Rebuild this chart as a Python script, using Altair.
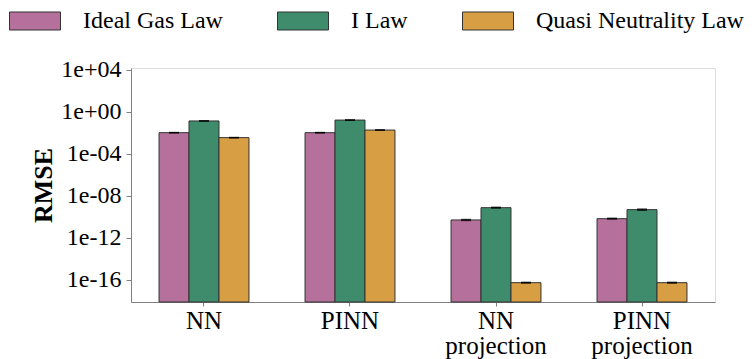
import altair as alt
import pandas as pd

methods = ["NN", "PINN", "NN projection", "PINN projection"]
laws = ["Ideal Gas Law", "I Law", "Quasi Neutrality Law"]
colors = ["#B5709B", "#3E8C6B", "#D89E43"]

rmse_ideal = [1.07e-2, 1.07e-2, 5.2e-11, 6.9e-11]
rmse_ilaw = [0.14, 0.17, 7.7e-10, 5.0e-10]
rmse_quasi = [3.6e-3, 1.9e-2, 5.5e-17, 5.5e-17]

std_ideal = [3e-4, 3e-4, 5e-12, 6e-12]
std_ilaw = [5e-3, 6e-3, 6e-11, 6e-11]
std_quasi = [1e-4, 5e-4, 4e-18, 4e-18]

tick_values = [1e-16, 1e-12, 1e-08, 1e-04, 1e+00, 1e+04]
y_min, y_max = 10 ** -18.1, 10 ** 4.19

rows = []
for law, vals, stds in zip(laws, [rmse_ideal, rmse_ilaw, rmse_quasi], [std_ideal, std_ilaw, std_quasi]):
    for m, v, s in zip(methods, vals, stds):
        rows.append({"method": m, "law": law, "rmse": v, "lo": v - s, "hi": v + s})
df = pd.DataFrame(rows)

FONT = "Liberation Serif, DejaVu Serif, serif"

x_enc = alt.X("method:N", sort=methods, title=None,
              scale=alt.Scale(paddingInner=0.384, paddingOuter=0.192),
              axis=alt.Axis(labelExpr="split(datum.label, ' ')", labelAngle=0,
                            labelFont=FONT, labelFontSize=25, labelLineHeight=25,
                            labelColor="black", labelPadding=2, tickSize=4,
                            tickColor="#808080", domainColor="#808080"))
xo_enc = alt.XOffset("law:N", sort=laws, scale=alt.Scale(paddingInner=0, paddingOuter=0))
y_scale = alt.Scale(type="log", domain=[y_min, y_max], nice=False)

label_expr = ("'1e' + (datum.value >= 1 ? '+' : '-') + "
              "(abs(round(log(datum.value)/LN10)) < 10 ? '0' : '') + "
              "abs(round(log(datum.value)/LN10))")

bars = alt.Chart(df).mark_bar(stroke="#333333", strokeWidth=1).encode(
    x=x_enc,
    xOffset=xo_enc,
    y=alt.Y("rmse:Q", scale=y_scale, title="RMSE",
            axis=alt.Axis(values=tick_values, labelExpr=label_expr, grid=False,
                          labelFont=FONT, labelFontSize=24, labelColor="black",
                          labelPadding=5, tickSize=5, tickColor="#808080",
                          domainColor="#808080", titleFont=FONT, titleFontSize=26,
                          titleFontWeight="bold", titleColor="black", titlePadding=4)),
    y2=alt.datum(y_min),
    color=alt.Color("law:N", sort=laws,
                    scale=alt.Scale(domain=laws, range=colors),
                    legend=alt.Legend(orient="none", legendX=-122, legendY=-73,
                                      direction="horizontal", title=None,
                                      symbolType="M-1,-0.353H1V0.353H-1Z",
                                      symbolSize=2601, symbolStrokeColor="#333333",
                                      symbolStrokeWidth=1, symbolOpacity=1,
                                      labelFont=FONT, labelFontSize=24,
                                      labelColor="black", labelOffset=22,
                                      columnPadding=52, labelLimit=400, padding=0)),
)

err_rule = alt.Chart(df).mark_rule(color="black", strokeWidth=1.2).encode(
    x=alt.X("method:N", sort=methods), xOffset=xo_enc,
    y=alt.Y("lo:Q", scale=y_scale), y2="hi:Q")
cap_lo = alt.Chart(df).mark_tick(color="black", size=10, thickness=1.5).encode(
    x=alt.X("method:N", sort=methods), xOffset=xo_enc,
    y=alt.Y("lo:Q", scale=y_scale))
cap_hi = alt.Chart(df).mark_tick(color="black", size=10, thickness=1.5).encode(
    x=alt.X("method:N", sort=methods), xOffset=xo_enc,
    y=alt.Y("hi:Q", scale=y_scale))

chart = alt.layer(bars, err_rule, cap_lo, cap_hi).properties(
    width=584, height=234,
    autosize=alt.AutoSizeParams(type="none"),
    padding={"left": 123, "top": 60, "right": 33, "bottom": 57},
).configure_view(stroke="#808080", strokeWidth=1).configure(background="white")

chart.save("out.html", embed_options={"renderer": "svg", "actions": False})
